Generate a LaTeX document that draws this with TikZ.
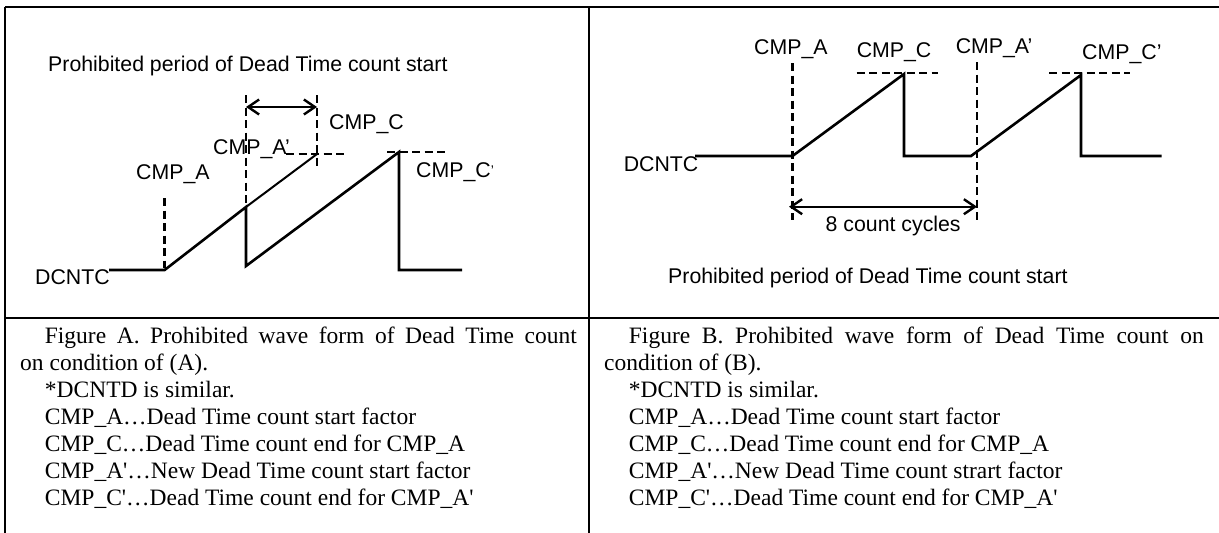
\documentclass[tikz,border=0pt]{standalone}
\usepackage{fontspec}
\setmainfont{Liberation Serif}
\newfontfamily\arialf{Liberation Sans}
\usetikzlibrary{arrows.meta}
\begin{document}
\begin{tikzpicture}[x=1pt,y=-1pt,
  tabrule/.style={line width=2pt},
  wave/.style={line width=2.6pt, line join=miter},
  thinwave/.style={line width=2pt},
  guide/.style={line width=2.4pt, dash pattern=on 8pt off 4.5pt},
  dimarrow/.style={line width=2.4pt, {Straight Barb[length=11pt,width=15pt]}-{Straight Barb[length=11pt,width=15pt]}},
  lab/.style={font=\arialf\fontsize{21.3}{24}\selectfont, inner sep=0, anchor=base west},
  captxt/.style={font=\fontsize{23.5}{27}\selectfont, inner sep=0, anchor=base west}]

\useasboundingbox (0,0) rectangle (1219,533);

% table
\coordinate (tl) at (5,7);
\coordinate (tr) at (1219,7);
\coordinate (bl) at (5,533);
\coordinate (tm) at (589,7);
\coordinate (bm) at (589,533);
\coordinate (ml) at (5,318);
\coordinate (mr) at (1219,318);
\draw[tabrule] (tl) -- (tr);
\draw[tabrule] (tl) -- (bl);
\draw[tabrule] (tm) -- (bm);
\draw[tabrule] (ml) -- (mr);

% ---------------- left panel ----------------
\node[lab] (lproh) at (48,71) {Prohibited period of Dead Time count start};
\node[lab] (lcmpc) at (329,129.6) {CMP\_C};
\node[lab] (lcmpa2) at (213,154.6) {CMP\_A’};
\node[lab] (lcmpa) at (136,179.6) {CMP\_A};
\node[lab] (lcmpc2) at (416,177.6) {CMP\_C\raisebox{2pt}{\fontsize{14}{14}\selectfont’}};
\node[lab] (ldcntc) at (35,284.6) {DCNTC};

\coordinate (la0) at (109,270);
\coordinate (la1) at (164.6,270);
\coordinate (la2) at (246,207);
\coordinate (la3) at (246,266);
\coordinate (la4) at (399,152);
\coordinate (la5) at (399,270);
\coordinate (la6) at (462,270);
\coordinate (lc) at (317,154);

\draw[wave] (la0) -- (la1) -- (la2) -- (la3) -- (la4) -- (la5) -- (la6);
\draw[thinwave] (la2) -- (lc);

\coordinate (lga1) at (164.6,198);
\coordinate (lga2) at (164.6,268);
\draw[guide] (lga1) -- (lga2);
\coordinate (lgb1) at (246,95);
\coordinate (lgb2) at (246,267);
\draw[guide] (lgb1) -- (lgb2);
\coordinate (lgc1) at (317,95);
\coordinate (lgc2) at (317,167);
\draw[guide] (lgc1) -- (lgc2);
\coordinate (lh1) at (286,154);
\coordinate (lh2) at (348,154);
\draw[guide] (lh1) -- (lh2);
\coordinate (lh3) at (387,152);
\coordinate (lh4) at (447,152);
\draw[guide] (lh3) -- (lh4);
\coordinate (larr1) at (246,107);
\coordinate (larr2) at (317,107);
\draw[dimarrow] (larr1) -- (larr2);

% ---------------- right panel ----------------
\node[lab] (rcmpa) at (754,54.3) {CMP\_A};
\node[lab] (rcmpc) at (856.6,57.6) {CMP\_C};
\node[lab] (rcmpa2) at (955.6,53.3) {CMP\_A’};
\node[lab] (rcmpc2) at (1082,59.3) {CMP\_C’};
\node[lab] (rdcntc) at (623.6,171) {DCNTC};
\node[lab] (rcyc) at (825.5,231.6) {8 count cycles};
\node[lab] (rproh) at (668,283.6) {Prohibited period of Dead Time count start};

\coordinate (ra0) at (695,156);
\coordinate (ra1) at (792.5,156);
\coordinate (ra2) at (904,74);
\coordinate (ra3) at (904,156);
\coordinate (ra4) at (971,156);
\coordinate (ra5) at (1081,75);
\coordinate (ra6) at (1081,156);
\coordinate (ra7) at (1161.5,156);
\draw[wave] (ra0) -- (ra1) -- (ra2) -- (ra3) -- (ra4) -- (ra5) -- (ra6) -- (ra7);

\coordinate (rga1) at (792.5,63);
\coordinate (rga2) at (792.5,220);
\draw[guide] (rga1) -- (rga2);
\coordinate (rgb1) at (977,62);
\coordinate (rgb2) at (977,220);
\draw[guide] (rgb1) -- (rgb2);
\coordinate (rh1) at (856.6,73);
\coordinate (rh2) at (938,73);
\draw[guide] (rh1) -- (rh2);
\coordinate (rh3) at (1049,73);
\coordinate (rh4) at (1130,73);
\draw[guide] (rh3) -- (rh4);
\coordinate (rarr1) at (789,206.7);
\coordinate (rarr2) at (977,206.7);
\draw[dimarrow] (rarr1) -- (rarr2);

% ---------------- captions ----------------
\node[captxt] (capA1) at (44.7,343) {\makebox[532pt][s]{Figure A. Prohibited wave form of Dead Time count}};
\node[captxt] (capA2) at (20,370) {on condition of (A).};
\node[captxt] (capA3) at (44.7,397) {*DCNTD is similar.};
\node[captxt] (capA4) at (44.7,424) {CMP\_A…Dead Time count start factor};
\node[captxt] (capA5) at (44.7,451) {CMP\_C…Dead Time count end for CMP\_A};
\node[captxt] (capA6) at (44.7,478) {CMP\_A\textquotesingle…New Dead Time count start factor};
\node[captxt] (capA7) at (44.7,505) {CMP\_C\textquotesingle…Dead Time count end for CMP\_A\textquotesingle};

\node[captxt] (capB1) at (628.7,343) {\makebox[575pt][s]{Figure B. Prohibited wave form of Dead Time count on}};
\node[captxt] (capB2) at (604,370) {condition of (B).};
\node[captxt] (capB3) at (628.7,397) {*DCNTD is similar.};
\node[captxt] (capB4) at (628.7,424) {CMP\_A…Dead Time count start factor};
\node[captxt] (capB5) at (628.7,451) {CMP\_C…Dead Time count end for CMP\_A};
\node[captxt] (capB6) at (628.7,478) {CMP\_A\textquotesingle…New Dead Time count strart factor};
\node[captxt] (capB7) at (628.7,505) {CMP\_C\textquotesingle…Dead Time count end for CMP\_A\textquotesingle};
\end{tikzpicture}
\end{document}
